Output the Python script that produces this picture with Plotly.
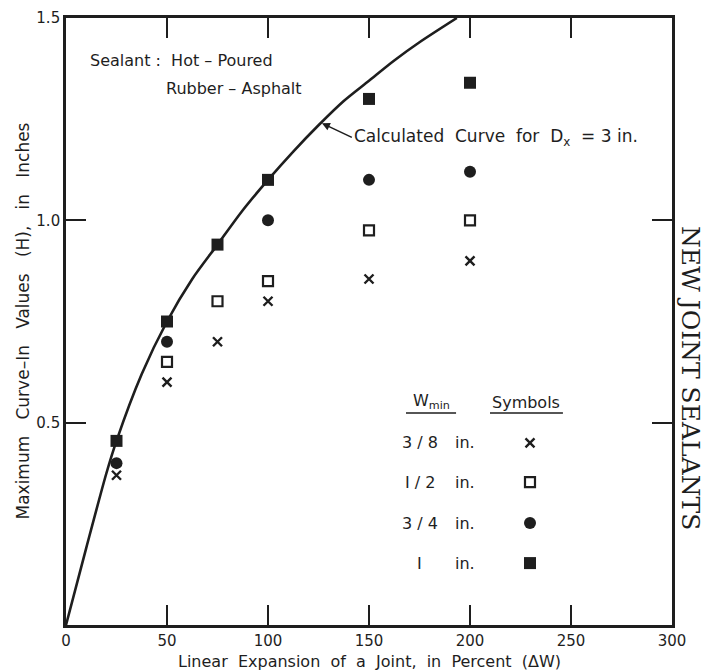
import plotly.graph_objects as go

# ---- data ----
curve_x = [0, 10, 20, 25, 37.5, 50, 62.5, 75, 87.5, 100, 112.5, 125, 137.5, 150, 162.5, 175, 193.5]
curve_y = [0, 0.19, 0.375, 0.455, 0.62, 0.75, 0.855, 0.94, 1.025, 1.10, 1.17, 1.235, 1.295, 1.345, 1.395, 1.44, 1.50]

w38_x = [25, 50, 75, 100, 150, 200]
w38_y = [0.37, 0.60, 0.70, 0.80, 0.855, 0.90]
w12_x = [50, 75, 100, 150, 200]
w12_y = [0.65, 0.80, 0.85, 0.975, 1.00]
w34_x = [25, 50, 100, 150, 200]
w34_y = [0.40, 0.70, 1.00, 1.10, 1.12]
w1_x = [25, 50, 75, 100, 150, 200]
w1_y = [0.455, 0.75, 0.94, 1.10, 1.30, 1.34]

x_ticks = [0, 50, 100, 150, 200, 250, 300]
x_ticklabels = ["0", "50", "100", "150", "200", "250", "300"]
y_ticks = [0.5, 1.0, 1.5]
y_ticklabels = ["0.5", "1.0", "1.5"]

legend_fracs = ["3 / 8", "I / 2", "3 / 4", "I"]

INK = "#1e1e1e"
FONT = "DejaVu Sans"

fig = go.Figure()

fig.add_trace(go.Scatter(x=curve_x, y=curve_y, mode="lines",
                         line=dict(color=INK, width=2.6, shape="spline", smoothing=0.8),
                         hoverinfo="skip"))

sym = {
    "x": dict(symbol="x-thin", size=9, color=INK, line=dict(color=INK, width=2.4)),
    "os": dict(symbol="square-open", size=10, color=INK, line=dict(color=INK, width=2.2)),
    "c": dict(symbol="circle", size=12, color=INK, line=dict(width=0)),
    "s": dict(symbol="square", size=12, color=INK, line=dict(width=0)),
}

for xs, ys, key in [(w38_x, w38_y, "x"), (w12_x, w12_y, "os"), (w34_x, w34_y, "c"), (w1_x, w1_y, "s")]:
    fig.add_trace(go.Scatter(x=xs, y=ys, mode="markers", marker=sym[key]))

# legend-table symbols
row_y = [0.450, 0.353, 0.252, 0.153]
for yy, key in zip(row_y, ["x", "os", "c", "s"]):
    fig.add_trace(go.Scatter(x=[229.7], y=[yy], mode="markers", marker=sym[key]))

ann = []
tf = dict(family=FONT, size=16, color=INK)
ann.append(dict(x=10.9, y=1.394, xanchor="left", yanchor="middle", showarrow=False,
                text="Sealant :  Hot – Poured", font=tf))
ann.append(dict(x=48.5, y=1.327, xanchor="left", yanchor="middle", showarrow=False,
                text="Rubber – Asphalt", font=tf))
ann.append(dict(x=126.7, y=1.24, ax=141.5, ay=1.205, axref="x", ayref="y",
                xanchor="left", yanchor="middle", showarrow=True, arrowhead=2,
                arrowsize=1, arrowwidth=1.6, arrowcolor=INK,
                text="Calculated  Curve  for  D<sub>x</sub>  = 3 in.", font=dict(family=FONT, size=17, color=INK)))
ann.append(dict(x=180.7, y=0.552, xanchor="center", yanchor="middle", showarrow=False,
                text="W<sub>min</sub>", font=dict(family=FONT, size=16, color=INK)))
ann.append(dict(x=227.7, y=0.549, xanchor="center", yanchor="middle", showarrow=False,
                text="Symbols", font=dict(family=FONT, size=16, color=INK)))
for yy, fr in zip(row_y, legend_fracs):
    ann.append(dict(x=175.2, y=yy, xanchor="center", yanchor="middle", showarrow=False,
                    text=fr, font=dict(family=FONT, size=16, color=INK)))
    ann.append(dict(x=191.4, y=yy, xanchor="left", yanchor="middle", showarrow=False,
                    text="in.", font=dict(family=FONT, size=16, color=INK)))
# right side title
ann.append(dict(x=1.0, y=0.407, xref="paper", yref="paper", xshift=18, xanchor="center",
                yanchor="middle", showarrow=False, textangle=90,
                text="NEW JOINT SEALANTS", font=dict(family="DejaVu Serif", size=25, color=INK)))
# axis titles
ann.append(dict(x=0.5, y=0, xref="paper", yref="paper", yshift=-36, xanchor="center",
                yanchor="middle", showarrow=False,
                text="Linear  Expansion  of  a  Joint,  in  Percent  (ΔW)",
                font=dict(family=FONT, size=16, color=INK)))
ann.append(dict(x=0, y=0.5, xref="paper", yref="paper", xshift=-44, xanchor="center",
                yanchor="middle", showarrow=False, textangle=-90,
                text="Maximum   Curve–In   Values   (H),   in   Inches",
                font=dict(family=FONT, size=17, color=INK)))

shapes = [
    dict(type="line", x0=168.3, x1=193.1, y0=0.524, y1=0.524, line=dict(color=INK, width=1.6)),
    dict(type="line", x0=209.9, x1=246.0, y0=0.524, y1=0.524, line=dict(color=INK, width=1.6)),
]

axis_common = dict(showgrid=False, zeroline=False, showline=True, linecolor=INK, linewidth=2.6,
                   ticks="inside", ticklen=20, tickwidth=2, tickcolor=INK, mirror="ticks",
                   automargin=False,
                   tickfont=dict(family=FONT, size=15, color=INK))

fig.update_layout(
    width=708, height=671,
    margin=dict(l=66, r=36, t=18, b=46),
    paper_bgcolor="white", plot_bgcolor="white",
    showlegend=False,
    annotations=ann, shapes=shapes,
    xaxis=dict(range=[0, 300], tickvals=x_ticks, ticktext=x_ticklabels, **axis_common),
    yaxis=dict(range=[0, 1.5], tickvals=y_ticks, ticktext=y_ticklabels, **axis_common),
)

fig.write_html("out.html")
